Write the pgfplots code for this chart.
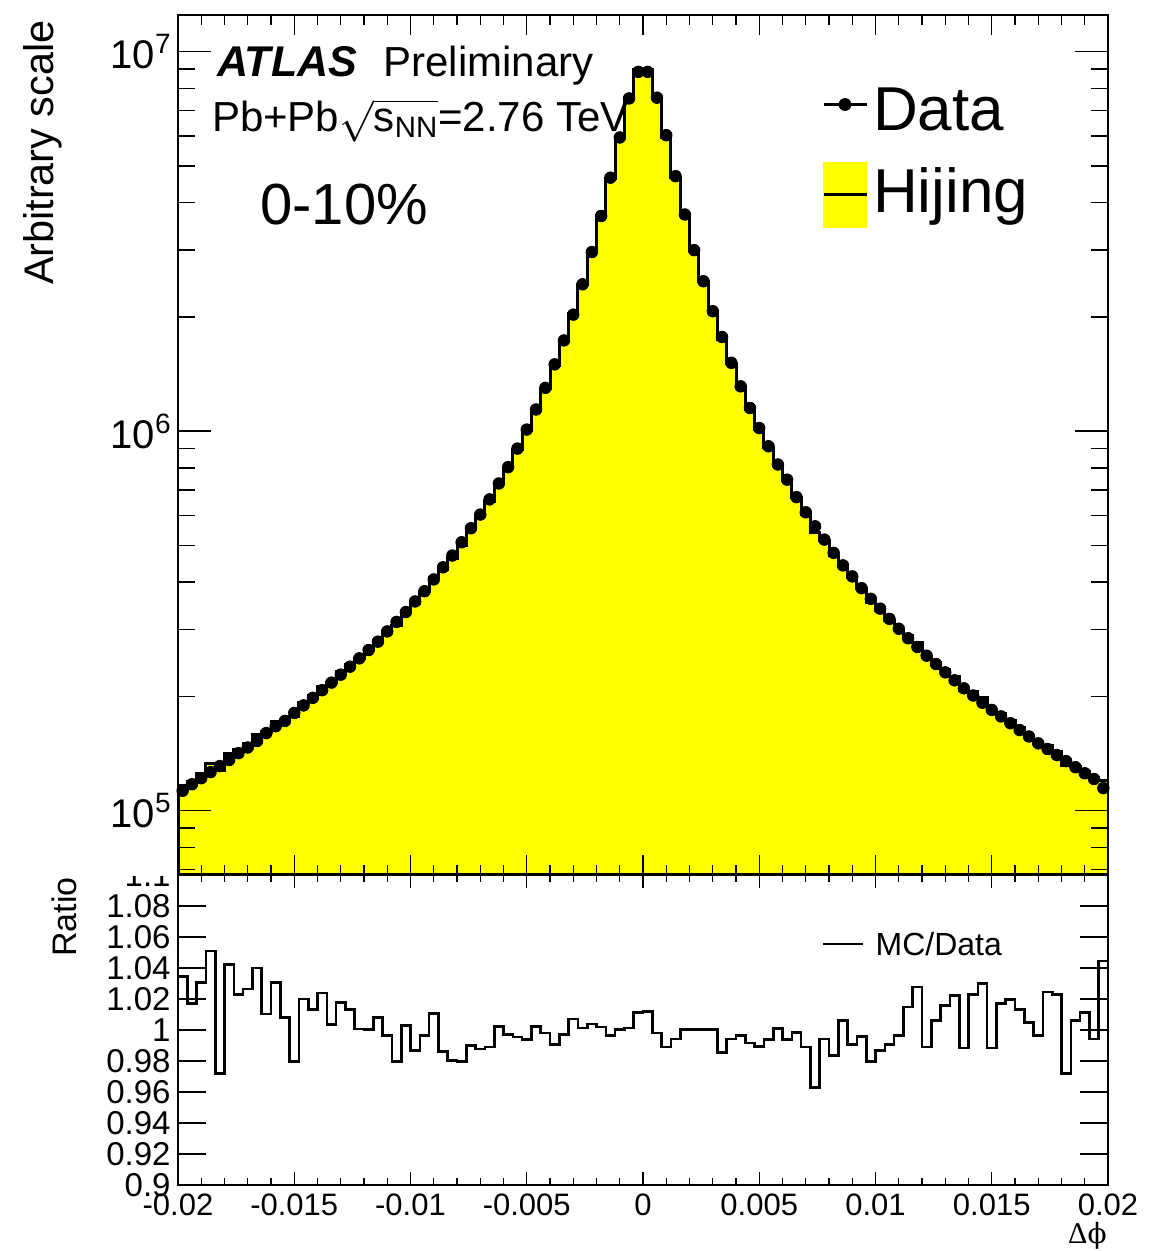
\documentclass[border=0pt]{standalone}
\usepackage{fontspec}
\setmainfont{Liberation Sans}
\newfontfamily\serifgr{Liberation Serif}
\newfontfamily\dejaserif{DejaVu Serif}
\usepackage{amsmath}
\usepackage{pgfplots}
\usepackage{pgfplotstable}
\pgfplotsset{compat=1.18}
\definecolor{rootyellow}{RGB}{255,255,0}

\pgfplotstableread{
edge center data mc ratio
-0.0200 -0.0198 112720 116630 1.0347
-0.0196 -0.0194 117220 119210 1.0170
-0.0192 -0.0190 121620 125370 1.0308
-0.0188 -0.0186 126180 132600 1.0509
-0.0184 -0.0182 130920 127230 0.9718
-0.0180 -0.0178 135830 141580 1.0423
-0.0176 -0.0174 141580 144820 1.0229
-0.0172 -0.0170 146560 150440 1.0265
-0.0168 -0.0166 152410 158520 1.0401
-0.0164 -0.0162 159960 161610 1.0103
-0.0160 -0.0158 166720 171860 1.0308
-0.0156 -0.0154 172190 173600 1.0082
-0.0152 -0.0150 180720 177050 0.9797
-0.0148 -0.0146 189230 193030 1.0201
-0.0144 -0.0142 198150 200770 1.0132
-0.0140 -0.0138 207490 212450 1.0239
-0.0136 -0.0134 217270 218010 1.0034
-0.0132 -0.0130 228030 232110 1.0179
-0.0128 -0.0126 239330 242490 1.0132
-0.0124 -0.0122 251770 251920 1.0006
-0.0120 -0.0118 264850 264900 1.0002
-0.0116 -0.0114 278610 280900 1.0082
-0.0112 -0.0110 296480 295380 0.9963
-0.0108 -0.0106 314050 307680 0.9797
-0.0104 -0.0102 333430 334430 1.0030
-0.0100 -0.0098 355630 350940 0.9868
-0.0096 -0.0094 378440 377040 0.9963
-0.0092 -0.0090 406440 410750 1.0106
-0.0088 -0.0086 437520 431480 0.9862
-0.0084 -0.0082 469890 460590 0.9802
-0.0080 -0.0078 509330 498990 0.9797
-0.0076 -0.0074 554630 549030 0.9899
-0.0072 -0.0070 602560 595150 0.9877
-0.0068 -0.0066 660690 653420 0.9890
-0.0064 -0.0062 727770 729520 1.0024
-0.0060 -0.0058 803530 801120 0.9970
-0.0056 -0.0054 899430 895380 0.9955
-0.0052 -0.0050 1009300 1002940 0.9937
-0.0048 -0.0046 1140300 1143040 1.0024
-0.0044 -0.0042 1300200 1297730 0.9981
-0.0040 -0.0038 1499700 1485450 0.9905
-0.0036 -0.0034 1733800 1728600 0.9970
-0.0032 -0.0030 2027700 2042100 1.0071
-0.0028 -0.0026 2437800 2441000 1.0013
-0.0024 -0.0022 2964800 2976400 1.0039
-0.0020 -0.0018 3689800 3696800 1.0019
-0.0016 -0.0014 4655900 4638700 0.9963
-0.0012 -0.0010 5942900 5944100 1.0002
-0.0008 -0.0006 7533600 7543400 1.0013
-0.0004 -0.0002 8851200 8952100 1.0114
0.0000 0.0002 8851200 8958300 1.0121
0.0004 0.0006 7568300 7553900 0.9981
0.0008 0.0010 6025600 5959300 0.9890
0.0012 0.0014 4698900 4671600 0.9942
0.0016 0.0018 3723900 3724600 1.0002
0.0020 0.0022 2999200 2999800 1.0002
0.0024 0.0026 2483100 2483600 1.0002
0.0028 0.0030 2070100 2070500 1.0002
0.0032 0.0034 1770100 1744610 0.9856
0.0036 0.0038 1513600 1504800 0.9942
0.0040 0.0042 1312200 1307300 0.9963
0.0044 0.0046 1150800 1141130 0.9916
0.0048 0.0050 1018600 1007800 0.9894
0.0052 0.0054 912010 906270 0.9937
0.0056 0.0058 816580 817480 1.0011
0.0060 0.0062 744730 740040 0.9937
0.0064 0.0066 669880 668880 0.9985
0.0068 0.0070 610940 604220 0.9890
0.0072 0.0074 561050 540350 0.9631
0.0076 0.0078 517610 514610 0.9942
0.0080 0.0082 477530 469600 0.9834
0.0084 0.0086 442590 445380 1.0063
0.0088 0.0090 414000 410070 0.9905
0.0092 0.0094 385480 383900 0.9959
0.0096 0.0098 361410 354000 0.9795
0.0100 0.0102 340410 335920 0.9868
0.0104 0.0106 319890 316850 0.9905
0.0108 0.0110 301310 300200 0.9963
0.0112 0.0114 284450 288690 1.0149
0.0116 0.0118 269770 277270 1.0278
0.0120 0.0122 255860 253050 0.9890
0.0124 0.0126 243220 244750 1.0063
0.0128 0.0130 231210 234840 1.0157
0.0132 0.0134 220300 225190 1.0222
0.0136 0.0138 209890 207450 0.9884
0.0140 0.0142 200910 205510 1.0229
0.0144 0.0146 192300 198070 1.0300
0.0148 0.0150 184080 181940 0.9884
0.0152 0.0154 177010 180020 1.0170
0.0156 0.0158 169820 173150 1.0196
0.0160 0.0162 162930 165080 1.0132
0.0164 0.0166 156680 157460 1.0050
0.0168 0.0170 150320 149760 0.9963
0.0172 0.0174 145210 148750 1.0244
0.0176 0.0178 139960 143170 1.0229
0.0180 0.0182 134900 131100 0.9718
0.0184 0.0186 130020 130840 1.0063
0.0188 0.0190 125310 126740 1.0114
0.0192 0.0194 121060 120360 0.9942
0.0196 0.0198 114550 119640 1.0444
0.0200 nan nan 119640 1.0444
}\histtable

\begin{document}
\begin{tikzpicture}
\path (0,0) rectangle (582.5pt,-625.5pt);

% ---------------- ratio panel ----------------
\begin{axis}[
  at={(89pt,-437.5pt)}, anchor=north west,
  scale only axis, width=465pt, height=155pt,
  xmin=-0.02, xmax=0.02, ymin=0.9, ymax=1.1,
  scaled x ticks=false, scaled y ticks=false,
  xtick={-0.02,-0.015,-0.01,-0.005,0,0.005,0.01,0.015,0.02},
  xticklabels={-0.02,-0.015,-0.01,-0.005,0,0.005,0.01,0.015,0.02},
  minor x tick num=4,
  ytick={0.9,0.92,0.94,0.96,0.98,1,1.02,1.04,1.06,1.08,1.1},
  yticklabels={0.9,0.92,0.94,0.96,0.98,1,1.02,1.04,1.06,1.08,1.1},
  tick align=inside,
  xtick style={/pgfplots/major tick length=6.6pt,/pgfplots/minor tick length=3.3pt,line width=0.7pt,black},
  ytick style={/pgfplots/major tick length=14pt,line width=0.7pt,black},
  xticklabel style={font=\fontsize{15.5}{17}\selectfont, inner sep=4pt},
  yticklabel style={font=\fontsize{16.5}{17}\selectfont, inner sep=3.5pt},
  axis line style={line width=1.2pt},
  legend cell align=left,
  legend style={at={(0.6925,0.819)}, anchor=north west, draw=none, fill=none,
    inner sep=0pt, outer sep=0pt, font=\fontsize{16}{18}\selectfont,
    column sep=5.5pt,
    nodes={inner sep=0pt, text height=12pt, text depth=3pt}},
]
\addplot[const plot, black, line width=1.3pt, forget plot]
  table[x=edge, y=ratio]{\histtable};
\addlegendimage{legend image code/.code={
  \draw[black,line width=1.3pt] (0pt,1pt) -- (20pt,1pt);}}
\addlegendentry{MC/Data}
\end{axis}

% cover the upper half of the clipped "1.1" label, as the upper pad does
\fill[white] (40pt,-428pt) rectangle (88.3pt,-438pt);

% ---------------- top panel ----------------
\begin{axis}[
  at={(89pt,-437.5pt)}, anchor=south west,
  scale only axis, width=465pt, height=430pt,
  xmin=-0.02, xmax=0.02,
  ymode=log, ymin=6.76e4, ymax=1.25e7,
  log origin y=infty,
  scaled x ticks=false,
  xtick={-0.02,-0.015,-0.01,-0.005,0,0.005,0.01,0.015,0.02},
  minor x tick num=4,
  xticklabels={},
  ytick={1e5,1e6,1e7},
  yticklabels={10\textsuperscript{5},10\textsuperscript{6},10\textsuperscript{7}},
  minor ytick={7e4,8e4,9e4,2e5,3e5,4e5,5e5,6e5,7e5,8e5,9e5,2e6,3e6,4e6,5e6,6e6,7e6,8e6,9e6},
  tick align=inside,
  xtick style={/pgfplots/major tick length=10pt,/pgfplots/minor tick length=5pt,line width=0.7pt,black},
  ytick style={/pgfplots/major tick length=16.5pt,/pgfplots/minor tick length=8.5pt,line width=0.7pt,black},
  yticklabel style={font=\fontsize{20}{22}\selectfont, inner sep=3pt},
  axis line style={line width=1.2pt},
  axis on top,
  legend cell align=left,
  legend style={at={(0.6925,0.9174)}, anchor=north west, draw=none, fill=none,
    inner sep=0pt, outer sep=0pt, font=\fontsize{31}{34}\selectfont,
    row sep=8.75pt, column sep=2.5pt,
    nodes={inner sep=0pt, text height=22pt, text depth=7pt}},
]
\addplot[const plot, fill=rootyellow, draw=black, line width=1.5pt, forget plot]
  table[x=edge, y=mc]{\histtable} \closedcycle;
\addplot[only marks, mark=*, mark size=2.9pt, black, forget plot]
  table[x=center, y=data]{\histtable};
\addlegendimage{legend image code/.code={
  \draw[black,line width=1.5pt] (0pt,5.25pt) -- (21.5pt,5.25pt);
  \fill[black] (10.75pt,5.25pt) circle (3pt);}}
\addlegendentry{Data}
\addlegendimage{legend image code/.code={
  \fill[rootyellow] (0pt,-14.5pt) rectangle (21.5pt,18pt);
  \draw[black,line width=1.5pt] (0pt,1.75pt) -- (21.5pt,1.75pt);}}
\addlegendentry{Hijing}
\end{axis}

% ---------------- texts ----------------
\node[rotate=90, anchor=base east, inner sep=0pt, font=\fontsize{20.7}{22}\selectfont]
  at (26.8pt,-10pt) {Arbitrary scale};
\node[rotate=90, anchor=base east, inner sep=0pt, font=\fontsize{17}{19}\selectfont]
  at (38pt,-438.5pt) {Ratio};
\node[anchor=base west, inner sep=0pt, font=\fontsize{21.5}{24}\selectfont\bfseries\itshape]
  at (108.3pt,-38.3pt) {ATLAS};
\node[anchor=base west, inner sep=0pt, font=\fontsize{21}{24}\selectfont]
  at (191.5pt,-38.3pt) {Preliminary};
\node[anchor=base west, inner sep=0pt, font=\fontsize{21}{24}\selectfont]
  at (105.8pt,-65.8pt) {Pb+Pb$\sqrt{\text{s}_{\text{NN}}}$=2.76 TeV};
\node[anchor=base west, inner sep=0pt, font=\fontsize{29}{32}\selectfont]
  at (130pt,-112.5pt) {0-10\%};
\node[anchor=base east, inner sep=0pt, font=\fontsize{15}{17}\selectfont]
  at (553.5pt,-621.5pt) {{\serifgr Δ}{\dejaserif\fontsize{14}{16}\selectfont ϕ}};
\end{tikzpicture}
\end{document}
